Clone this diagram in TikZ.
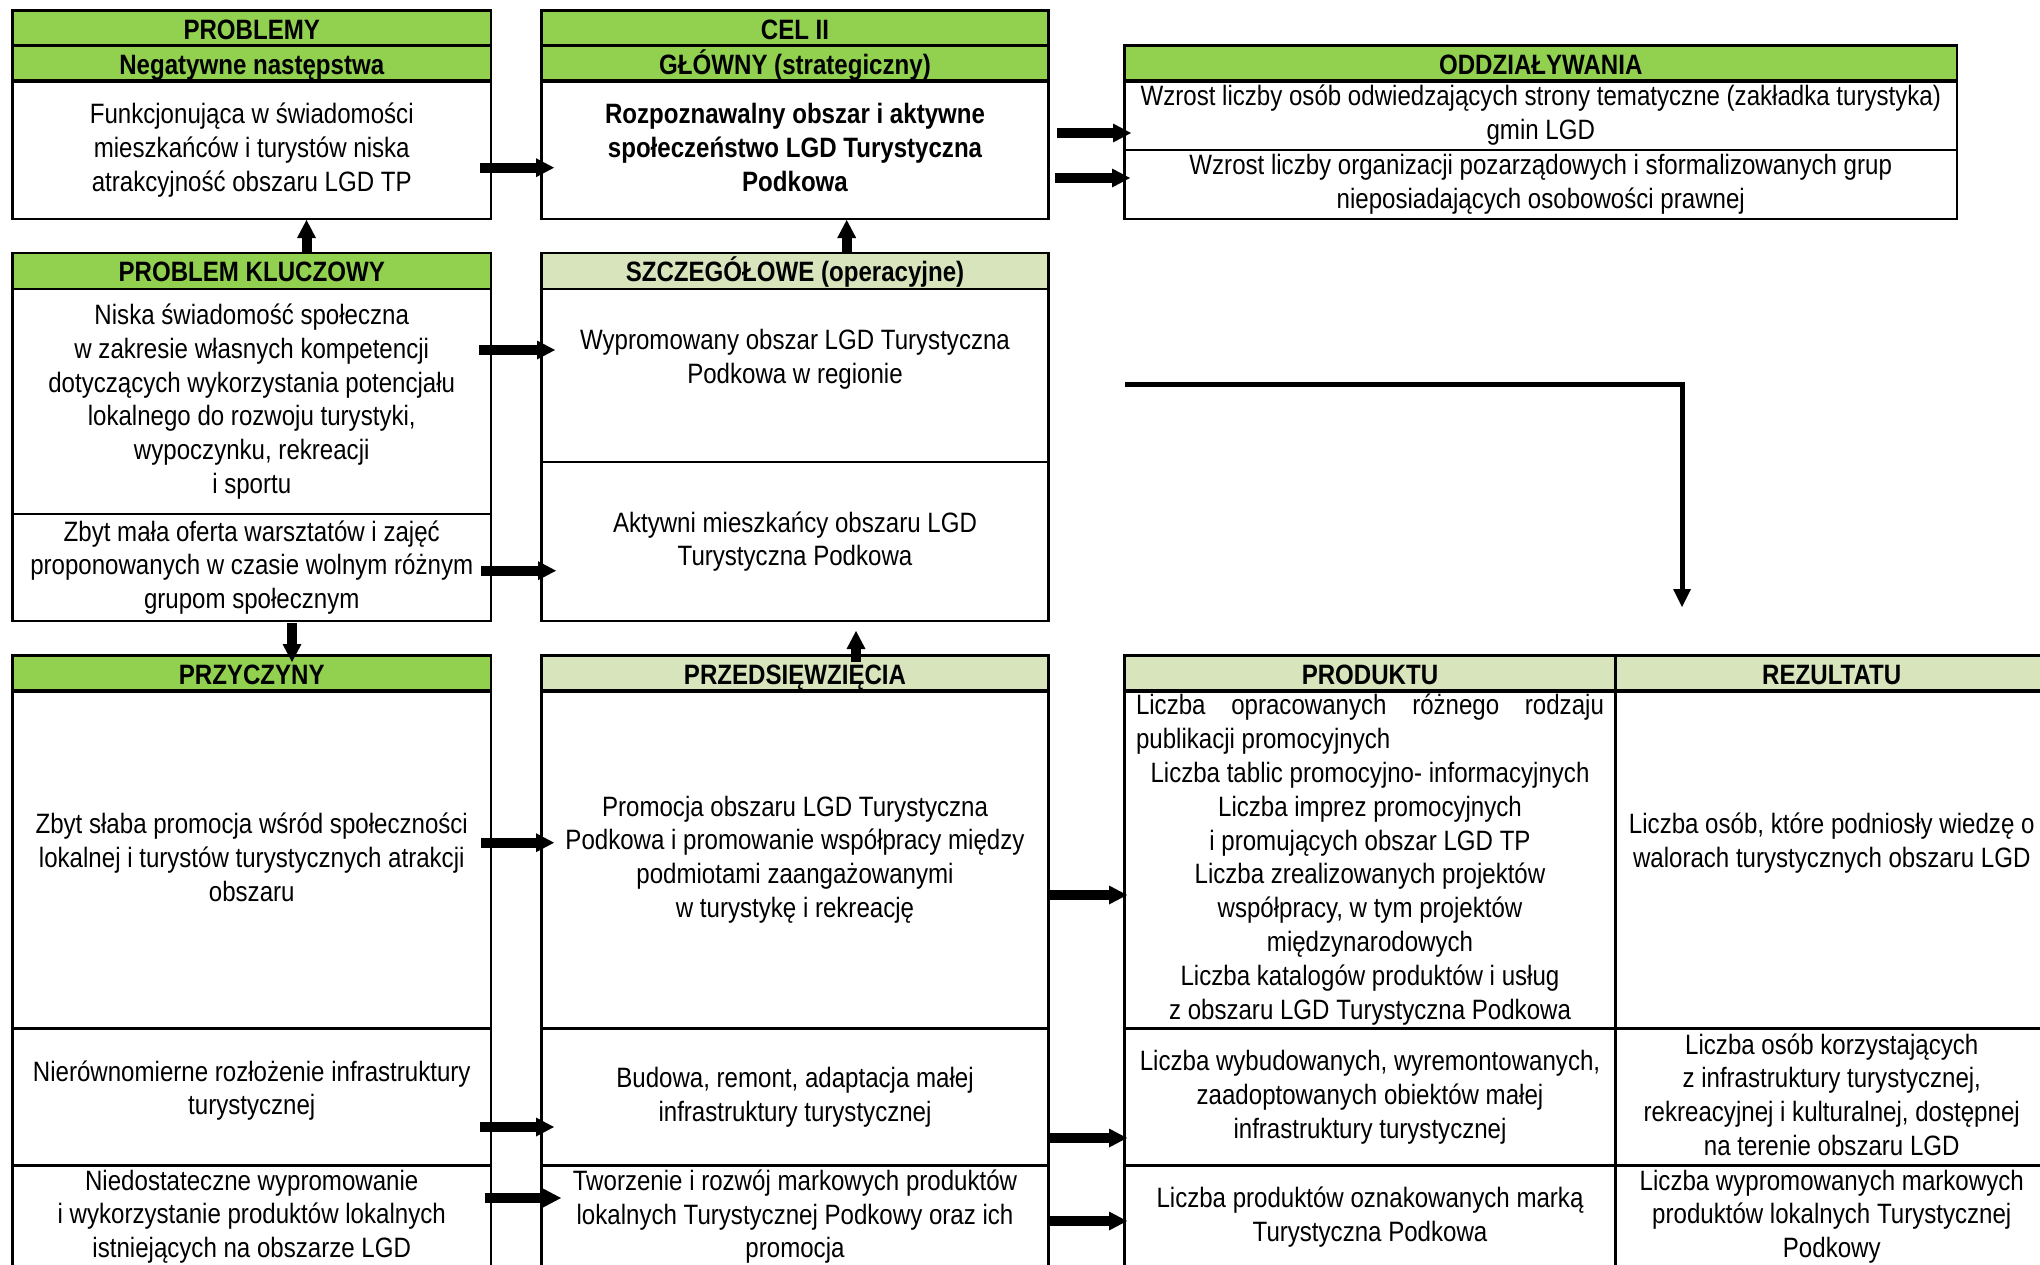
\documentclass[tikz,border=0pt]{standalone}
\usepackage{fontspec}
\setmainfont{Liberation Sans}[FakeStretch=0.86]
\usetikzlibrary{arrows.meta}
\definecolor{hgreen}{HTML}{92D050}
\definecolor{lgreen}{HTML}{D7E4BC}
\newcommand\myfs{\fontsize{28}{33.8}\selectfont}
\newcommand\mystrut{\rule[-5pt]{0pt}{33.8pt}}
\newcommand\myhstrut{\rule[-7.2pt]{0pt}{33.8pt}}
\begin{document}
\begin{tikzpicture}[x=1pt,y=-1pt,
  cell/.style={draw=black, line width=2.5pt, inner sep=0pt, outer sep=0pt, align=center, font=\myfs,
    execute at begin node=\mystrut, execute at end node=\mystrut},
  bcell/.style={cell, font=\myfs\bfseries},
  hcell/.style={cell, font=\myfs\bfseries,
    execute at begin node=\myhstrut, execute at end node=\myhstrut},
  colL/.style={minimum width=478.5pt},
  colM/.style={minimum width=507pt},
  colO/.style={minimum width=832.5pt},
  colP/.style={minimum width=491pt},
  colR/.style={minimum width=432.5pt},
  barrow/.style={line width=10pt, -{Triangle[length=18pt,width=19pt,line width=0pt]}},
  conn/.style={line width=5pt, -{Triangle[length=18pt,width=18pt,line width=0pt]}}]
\useasboundingbox (0,0) rectangle (2040,1264);
\clip (0,0) rectangle (2040,1264);
% ---------- top row ----------
\node[hcell, colL, minimum height=36pt, fill=hgreen] (ph1) at (251.75,28.7) {PROBLEMY};
\node[hcell, colL, minimum height=34pt, fill=hgreen] (ph2) at (251.75,63.7) {Negatywne następstwa};
\node[cell, colL, minimum height=138.3pt] (pb) at (251.75,149.85) {Funkcjonująca w świadomości\\mieszkańców i turystów niska\\atrakcyjność obszaru LGD TP};
\node[hcell, colM, minimum height=36pt, fill=hgreen] (ch1) at (795,28.7) {CEL II};
\node[hcell, colM, minimum height=34pt, fill=hgreen] (ch2) at (795,63.7) {GŁÓWNY (strategiczny)};
\node[bcell, colM, minimum height=138.3pt] (cb) at (795,149.85) {Rozpoznawalny obszar i aktywne\\społeczeństwo LGD Turystyczna\\Podkowa};
\node[hcell, colO, minimum height=34pt, fill=hgreen] (oh) at (1540.75,63.7) {ODDZIAŁYWANIA};
\node[cell, colO, minimum height=69.3pt] (od1) at (1540.75,115.35) {Wzrost liczby osób odwiedzających strony tematyczne (zakładka turystyka)\\gmin LGD};
\node[cell, colO, minimum height=69pt] (od2) at (1540.75,184.5) {Wzrost liczby organizacji pozarządowych i sformalizowanych grup\\nieposiadających osobowości prawnej};
% ---------- second row ----------
\node[hcell, colL, minimum height=36pt, fill=hgreen] (pkh) at (251.75,271) {PROBLEM KLUCZOWY};
\node[cell, colL, minimum height=225pt] (pk1) at (251.75,401.5) {Niska świadomość społeczna\\w zakresie własnych kompetencji\\dotyczących wykorzystania potencjału\\lokalnego do rozwoju turystyki,\\wypoczynku, rekreacji\\i sportu};
\node[cell, colL, minimum height=107pt] (pk2) at (251.75,567.5) {Zbyt mała oferta warsztatów i zajęć\\proponowanych w czasie wolnym różnym\\grupom społecznym};
\node[hcell, colM, minimum height=36pt, fill=lgreen] (szh) at (795,271) {SZCZEGÓŁOWE (operacyjne)};
\node[cell, colM, minimum height=173pt] (sz1) at (795,375.5) {Wypromowany obszar LGD Turystyczna\\Podkowa w regionie\\\mbox{}};
\node[cell, colM, minimum height=159pt] (sz2) at (795,541.5) {Aktywni mieszkańcy obszaru LGD\\Turystyczna Podkowa};
% ---------- bottom table ----------
\node[hcell, colL, minimum height=34pt, fill=hgreen] (przh) at (251.75,673.5) {PRZYCZYNY};
\node[cell, colL, minimum height=338.1pt] (pr1) at (251.75,859.55) {Zbyt słaba promocja wśród społeczności\\lokalnej i turystów turystycznych atrakcji\\obszaru};
\node[cell, colL, minimum height=136.8pt] (pr2) at (251.75,1097) {Nierównomierne rozłożenie infrastruktury\\turystycznej\\[-20pt]\mbox{}};
\node[cell, colL, minimum height=102.6pt] (pr3) at (251.75,1216.7) {Niedostateczne wypromowanie\\i wykorzystanie produktów lokalnych\\istniejących na obszarze LGD};
\node[hcell, colM, minimum height=34pt, fill=lgreen] (pdh) at (795,673.5) {PRZEDSIĘWZIĘCIA};
\node[cell, colM, minimum height=338.1pt] (pd1) at (795,859.55) {Promocja obszaru LGD Turystyczna\\Podkowa i promowanie współpracy między\\podmiotami zaangażowanymi\\w turystykę i rekreację};
\node[cell, colM, minimum height=136.8pt] (pd2) at (795,1097) {Budowa, remont, adaptacja małej\\infrastruktury turystycznej};
\node[cell, colM, minimum height=102.6pt] (pd3) at (795,1216.7) {Tworzenie i rozwój markowych produktów\\lokalnych Turystycznej Podkowy oraz ich\\promocja};
\node[hcell, colP, minimum height=34pt, fill=lgreen] (prh) at (1370,673.5) {PRODUKTU};
\node[cell, colP, minimum height=338.1pt] (po1) at (1370,859.55) {\makebox[468pt][s]{Liczba opracowanych różnego rodzaju}\\\makebox[468pt][l]{publikacji promocyjnych}\\Liczba tablic promocyjno- informacyjnych\\Liczba imprez promocyjnych\\i promujących obszar LGD TP\\Liczba zrealizowanych projektów\\współpracy, w tym projektów\\międzynarodowych\\Liczba katalogów produktów i usług\\z obszaru LGD Turystyczna Podkowa};
\node[cell, colP, minimum height=136.8pt] (po2) at (1370,1097) {Liczba wybudowanych, wyremontowanych,\\zaadoptowanych obiektów małej\\infrastruktury turystycznej};
\node[cell, colP, minimum height=102.6pt] (po3) at (1370,1216.7) {Liczba produktów oznakowanych marką\\Turystyczna Podkowa};
\node[hcell, colR, minimum height=34pt, fill=lgreen] (rzh) at (1831.75,673.5) {REZULTATU};
\node[cell, colR, minimum height=338.1pt] (rz1) at (1831.75,859.55) {Liczba osób, które podniosły wiedzę o\\walorach turystycznych obszaru LGD\\\mbox{}};
\node[cell, colR, minimum height=136.8pt] (rz2) at (1831.75,1097) {Liczba osób korzystających\\z infrastruktury turystycznej,\\rekreacyjnej i kulturalnej, dostępnej\\na terenie obszaru LGD};
\node[cell, colR, minimum height=102.6pt] (rz3) at (1831.75,1216.7) {Liczba wypromowanych markowych\\produktów lokalnych Turystycznej\\Podkowy};
% ---------- block arrows ----------
\draw[barrow] ([shift={(-11,17.85)}]pb.east) -- ([shift={(12.5,17.85)}]cb.west);
\draw[barrow] ([shift={(8.5,-16.85)}]cb.east) -- ([shift={(6.5,17.65)}]od1.west);
\draw[barrow] ([shift={(6.5,28.15)}]cb.east) -- ([shift={(5.5,-6.5)}]od2.west);
\draw[barrow] ([shift={(54.75,-1)}]pkh.north) -- ([shift={(54.75,1)}]pb.south);
\draw[barrow] ([shift={(51.7,-1)}]szh.north) -- ([shift={(51.7,1)}]cb.south);
\draw[barrow] ([shift={(-12,-51.5)}]pk1.east) -- ([shift={(13.5,-25.5)}]sz1.west);
\draw[barrow] ([shift={(-10,3.2)}]pk2.east) -- ([shift={(14.5,29.2)}]sz2.west);
\draw[barrow] ([shift={(40.25,2)}]pk2.south) -- ([shift={(40.25,6.5)}]przh.north);
\draw[barrow] ([shift={(61,6.5)}]pdh.north) -- ([shift={(61,10)}]sz2.south);
\draw[barrow] ([shift={(-10,-16.85)}]pr1.east) -- ([shift={(12.5,-16.85)}]pd1.west);
\draw[barrow] ([shift={(-11,30)}]pr2.east) -- ([shift={(12.5,30)}]pd2.west);
\draw[barrow] ([shift={(-6,-18.7)}]pr3.east) -- ([shift={(19.5,-18.7)}]pd3.west);
\draw[barrow] ([shift={(1.5,35.45)}]pd1.east) -- ([shift={(2.5,35.45)}]po1.west);
\draw[barrow] ([shift={(1.5,41)}]pd2.east) -- ([shift={(2.5,41)}]po2.west);
\draw[barrow] ([shift={(1.5,4.3)}]pd3.east) -- ([shift={(2.5,4.3)}]po3.west);
% ---------- free connector ----------
\coordinate (cstart) at (1125,384);
\coordinate (cend) at (1682,607);
\draw[conn] (cstart) -| (cend);
\end{tikzpicture}
\end{document}
